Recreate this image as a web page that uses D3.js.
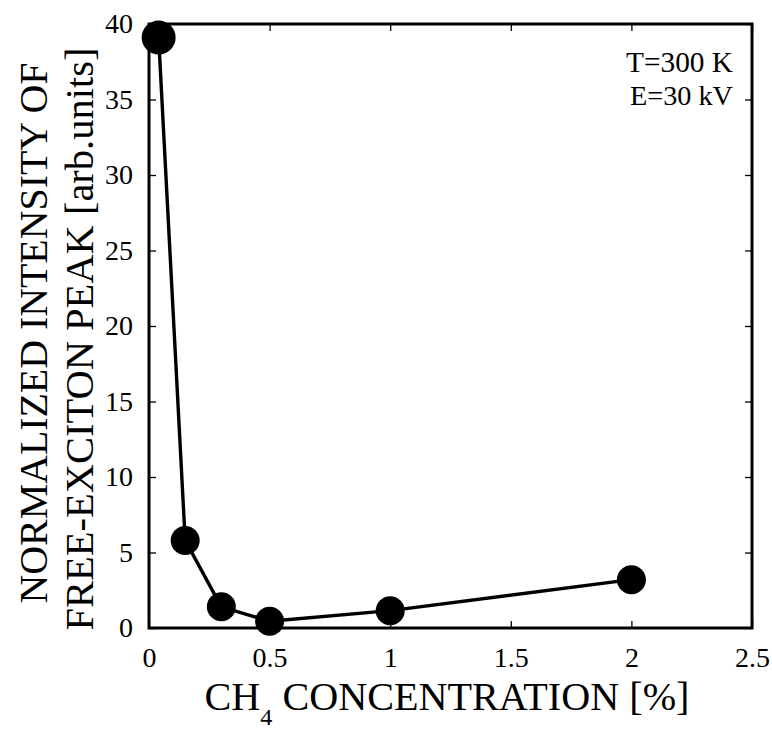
<!DOCTYPE html>
<html>
<head>
<meta charset="utf-8">
<script src="https://cdn.jsdelivr.net/npm/d3@7"></script>
</head>
<body style="margin:0">
<svg id="fig" width="772" height="730"></svg>
<script>
// CH4 concentration [%] and normalized free-exciton peak intensity
const concentration = [0.04, 0.15, 0.3, 0.5, 1.0, 2.0];
const intensity = [39.1, 5.8, 1.4, 0.45, 1.15, 3.2];

const xTicks = [0, 0.5, 1, 1.5, 2, 2.5];
const xTickLabels = ["0", "0.5", "1", "1.5", "2", "2.5"];
const yTicks = [0, 5, 10, 15, 20, 25, 30, 35, 40];
const yTickLabels = ["0", "5", "10", "15", "20", "25", "30", "35", "40"];
const notes = ["T=300 K", "E=30 kV"];

const SERIF = '"Liberation Serif"';
const svg = d3.select("#fig");
const W = 772, H = 730;
const margin = { left: 149, right: 20, top: 24, bottom: 102 };

const x = d3.scaleLinear().domain([0, 2.5]).range([margin.left, W - margin.right]);
const y = d3.scaleLinear().domain([0, 40]).range([H - margin.bottom, margin.top]);

const tickLen = 7;

// Serif face for every label
function serif(sel) {
  sel.attr("font-family", "Liberation Serif").style("font-family", SERIF, "important");
}

// Scale a text's font size so it spans the given width
function fitWidth(sel, width) {
  const fs = parseFloat(sel.attr("font-size"));
  const len = sel.node().getComputedTextLength();
  sel.attr("font-size", (fs * width / len).toFixed(2));
}

function styleAxis(g) {
  g.attr("font-family", "Liberation Serif");
  g.select(".domain").remove();
  g.selectAll("line").attr("stroke", "#000").attr("stroke-width", 1.3);
  g.selectAll("text").attr("font-size", 28).attr("fill", "#000").call(serif);
}

// Bottom axis
svg.append("g")
  .attr("transform", `translate(0,${y(0)})`)
  .call(d3.axisBottom(x).tickValues(xTicks).tickFormat((d, i) => xTickLabels[i])
    .tickSizeInner(-tickLen).tickSizeOuter(0).tickPadding(19))
  .call(styleAxis);

// Left axis
svg.append("g")
  .attr("transform", `translate(${x(0)},0)`)
  .call(d3.axisLeft(y).tickValues(yTicks).tickFormat((d, i) => yTickLabels[i])
    .tickSizeInner(-tickLen).tickSizeOuter(0).tickPadding(16))
  .call(styleAxis);

// Mirrored ticks on top and right
svg.append("g")
  .attr("transform", `translate(0,${y(40)})`)
  .call(d3.axisTop(x).tickValues(xTicks).tickFormat("").tickSizeInner(-tickLen).tickSizeOuter(0))
  .call(styleAxis);

svg.append("g")
  .attr("transform", `translate(${x(2.5)},0)`)
  .call(d3.axisRight(y).tickValues(yTicks).tickFormat("").tickSizeInner(-tickLen).tickSizeOuter(0))
  .call(styleAxis);

// Frame
svg.append("rect")
  .attr("x", x(0)).attr("y", y(40))
  .attr("width", x(2.5) - x(0)).attr("height", y(0) - y(40))
  .attr("fill", "none").attr("stroke", "#000").attr("stroke-width", 3);

// Data line and markers
const pts = concentration.map((c, i) => [c, intensity[i]]);
svg.append("path")
  .datum(pts)
  .attr("fill", "none").attr("stroke", "#000").attr("stroke-width", 3.4)
  .attr("stroke-linejoin", "round")
  .attr("d", d3.line().x(d => x(d[0])).y(d => y(d[1])));

svg.append("g").selectAll("circle")
  .data(pts).join("circle")
  .attr("cx", d => x(d[0])).attr("cy", d => y(d[1]))
  .attr("r", (d, i) => i === 0 ? 17 : 14.5)
  .attr("fill", "#000");

// Conditions note
svg.append("g").selectAll("text")
  .data(notes).join("text")
  .attr("x", 733).attr("y", (d, i) => 72 + i * 33)
  .attr("text-anchor", "end").attr("font-size", 30)
  .call(serif)
  .text(d => d)
  .each(function (d, i) { fitWidth(d3.select(this), i === 0 ? 107 : 103); });

// X title with subscript
const xt = svg.append("text")
  .attr("x", 447).attr("y", 710)
  .attr("text-anchor", "middle").attr("font-size", 40)
  .call(serif);
xt.append("tspan").text("CH");
const sub = xt.append("tspan").attr("font-size", 24).attr("dy", 15).text("4");
xt.append("tspan").attr("dy", -15).text(" CONCENTRATION [%]");
{
  const k = 485 / xt.node().getComputedTextLength();
  xt.attr("font-size", (40 * k).toFixed(2));
  sub.attr("font-size", (24 * k).toFixed(2));
}

// Y title, two lines
const yt = svg.append("g").attr("transform", "rotate(-90)");
yt.append("text").attr("x", -333).attr("y", 47).attr("text-anchor", "middle")
  .attr("font-size", 44).call(serif)
  .text("NORMALIZED INTENSITY OF")
  .call(s => fitWidth(s, 541));
yt.append("text").attr("x", -339).attr("y", 93).attr("text-anchor", "middle")
  .attr("font-size", 44).call(serif)
  .text("FREE-EXCITON PEAK [arb.units]")
  .call(s => fitWidth(s, 583));
</script>
</body>
</html>
